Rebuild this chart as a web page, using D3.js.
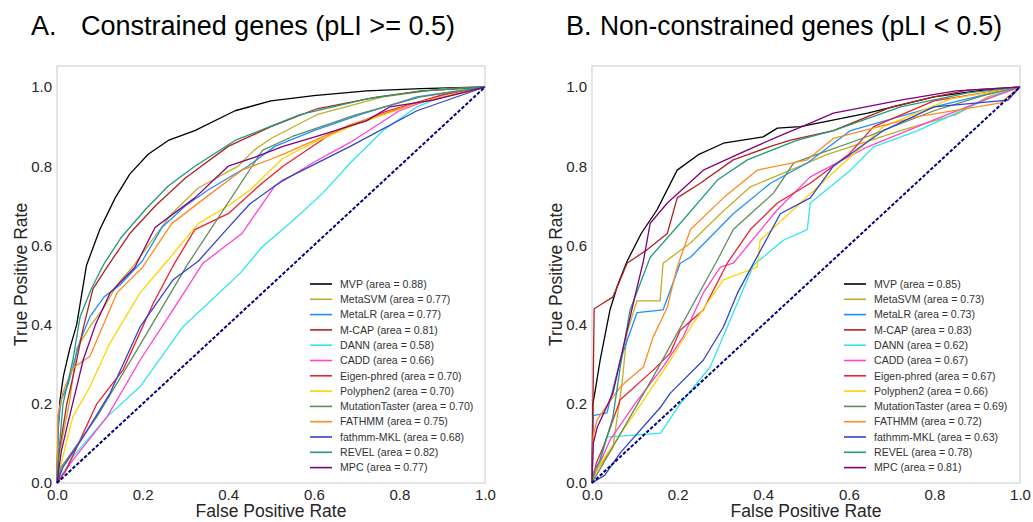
<!doctype html>
<html>
<head>
<meta charset="utf-8">
<title>ROC curves</title>
<script src="https://d3js.org/d3.v7.min.js"></script>
<style>
  body { margin: 0; background: #fff; }
  text { font-family: "Liberation Sans", Arial, sans-serif; }
</style>
</head>
<body>
<script>
// tools, in legend order
var tools = ["MVP","MetaSVM","MetaLR","M-CAP","DANN","CADD","Eigen-phred","Polyphen2","MutationTaster","FATHMM","fathmm-MKL","REVEL","MPC"];
var aucA = ["0.88","0.77","0.77","0.81","0.58","0.66","0.70","0.70","0.70","0.75","0.68","0.82","0.77"];
var aucB = ["0.85","0.73","0.73","0.83","0.62","0.67","0.67","0.66","0.69","0.72","0.63","0.78","0.81"];
var colors = ["#000000","#c0ae2a","#1e8fff","#b22222","#2ee6ee","#ff44cc","#ec2030","#ffd400","#5f8c5f","#ff8a20","#3344cc","#239a78","#800080"];
var ticks = [0, 0.2, 0.4, 0.6, 0.8, 1.0];

// panel A: constrained genes, [fpr, tpr]
var mvpA = [[0,0],[0.002,0.12],[0.007,0.21],[0.015,0.27],[0.03,0.34],[0.046,0.40],[0.069,0.55],[0.1,0.64],[0.136,0.72],[0.17,0.78],[0.213,0.83],[0.26,0.865],[0.322,0.89],[0.416,0.94],[0.5,0.965],[0.6,0.978],[0.724,0.99],[0.85,0.996],[1,1]];
var metaSvmA = [[0,0],[0.005,0.07],[0.03,0.21],[0.046,0.34],[0.08,0.40],[0.108,0.44],[0.14,0.50],[0.18,0.55],[0.22,0.61],[0.268,0.68],[0.33,0.745],[0.423,0.80],[0.46,0.84],[0.5,0.87],[0.607,0.93],[0.762,0.975],[0.9,0.995],[1,1]];
var metaLrA = [[0,0],[0.003,0.15],[0.01,0.21],[0.026,0.25],[0.054,0.36],[0.077,0.42],[0.11,0.47],[0.147,0.50],[0.199,0.56],[0.245,0.645],[0.3,0.70],[0.353,0.74],[0.446,0.80],[0.509,0.85],[0.6,0.89],[0.708,0.93],[0.841,0.975],[1,1]];
var mcapA = [[0,0],[0.005,0.08],[0.023,0.2],[0.046,0.31],[0.061,0.39],[0.084,0.49],[0.12,0.55],[0.17,0.63],[0.23,0.70],[0.3,0.77],[0.4,0.85],[0.5,0.9],[0.607,0.945],[0.75,0.975],[0.855,0.99],[1,1]];
var dannA = [[0,0],[0.037,0.066],[0.117,0.167],[0.194,0.243],[0.294,0.394],[0.428,0.53],[0.479,0.596],[0.544,0.656],[0.621,0.732],[0.685,0.808],[0.762,0.89],[0.841,0.95],[0.918,0.985],[1,1]];
var caddA = [[0,0],[0.037,0.058],[0.117,0.167],[0.194,0.31],[0.271,0.437],[0.341,0.555],[0.432,0.63],[0.509,0.75],[0.6,0.81],[0.685,0.86],[0.8,0.94],[0.9,0.98],[1,1]];
var eigenA = [[0,0],[0.02,0.03],[0.046,0.09],[0.093,0.2],[0.154,0.285],[0.225,0.454],[0.272,0.55],[0.322,0.64],[0.4,0.68],[0.479,0.757],[0.528,0.80],[0.638,0.88],[0.76,0.935],[0.9,0.98],[1,1]];
var polyphenA = [[0,0],[0.01,0.05],[0.037,0.167],[0.077,0.243],[0.124,0.354],[0.194,0.48],[0.257,0.56],[0.33,0.655],[0.4,0.70],[0.451,0.74],[0.528,0.82],[0.6,0.86],[0.685,0.9],[0.841,0.96],[1,1]];
var mutTasterA = [[0,0],[0.01,0.04],[0.093,0.167],[0.187,0.336],[0.304,0.55],[0.48,0.84],[0.55,0.875],[0.7,0.93],[0.85,0.975],[1,1]];
var fathmmA = [[0,0],[0.002,0.17],[0.014,0.23],[0.037,0.29],[0.077,0.32],[0.14,0.48],[0.2,0.545],[0.268,0.655],[0.346,0.72],[0.432,0.79],[0.493,0.815],[0.528,0.83],[0.685,0.905],[0.841,0.96],[0.958,0.987],[1,1]];
var fathmmMklA = [[0,0],[0.014,0.04],[0.061,0.116],[0.124,0.227],[0.194,0.394],[0.271,0.513],[0.33,0.56],[0.4,0.645],[0.451,0.705],[0.528,0.765],[0.685,0.85],[0.841,0.94],[1,1]];
var revelA = [[0,0],[0.003,0.06],[0.014,0.2],[0.037,0.31],[0.054,0.42],[0.08,0.49],[0.108,0.55],[0.15,0.62],[0.206,0.69],[0.26,0.75],[0.322,0.80],[0.416,0.865],[0.509,0.905],[0.568,0.93],[0.724,0.97],[0.85,0.99],[1,1]];
var mpcA = [[0,0],[0.01,0.08],[0.023,0.14],[0.061,0.31],[0.09,0.40],[0.124,0.48],[0.182,0.545],[0.229,0.645],[0.322,0.72],[0.4,0.80],[0.463,0.823],[0.528,0.85],[0.62,0.88],[0.724,0.915],[0.778,0.95],[0.879,0.967],[1,1]];

// panel B: non-constrained genes
var mvpB = [[0,0],[0.002,0.2],[0.007,0.23],[0.019,0.31],[0.042,0.437],[0.06,0.50],[0.082,0.56],[0.115,0.63],[0.152,0.69],[0.199,0.79],[0.25,0.83],[0.307,0.858],[0.4,0.874],[0.433,0.896],[0.487,0.9],[0.644,0.934],[0.799,0.975],[0.9,0.99],[1,1]];
var metaSvmB = [[0,0],[0.01,0.03],[0.049,0.09],[0.07,0.25],[0.082,0.38],[0.105,0.46],[0.159,0.46],[0.166,0.555],[0.23,0.606],[0.3,0.68],[0.37,0.748],[0.464,0.79],[0.55,0.83],[0.721,0.89],[0.85,0.93],[0.925,0.975],[1,1]];
var metaLrB = [[0,0],[0.003,0.17],[0.035,0.177],[0.066,0.31],[0.105,0.43],[0.166,0.437],[0.206,0.555],[0.23,0.57],[0.33,0.68],[0.417,0.757],[0.503,0.808],[0.604,0.89],[0.799,0.95],[0.955,0.99],[1,1]];
var mcapB = [[0,0],[0.002,0.18],[0.005,0.44],[0.02,0.45],[0.049,0.47],[0.082,0.555],[0.13,0.59],[0.176,0.63],[0.199,0.72],[0.253,0.757],[0.33,0.816],[0.417,0.85],[0.464,0.866],[0.564,0.89],[0.7,0.95],[0.799,0.975],[0.878,0.992],[1,1]];
var dannB = [[0,0],[0.01,0.03],[0.035,0.116],[0.16,0.126],[0.206,0.2],[0.276,0.293],[0.316,0.394],[0.377,0.55],[0.447,0.613],[0.503,0.64],[0.51,0.707],[0.604,0.79],[0.658,0.849],[0.761,0.89],[0.955,0.985],[1,1]];
var caddB = [[0,0],[0.01,0.03],[0.042,0.108],[0.1,0.2],[0.166,0.293],[0.213,0.369],[0.26,0.48],[0.3,0.545],[0.33,0.555],[0.433,0.69],[0.51,0.773],[0.644,0.849],[0.799,0.917],[0.916,0.967],[1,1]];
var eigenB = [[0,0],[0.01,0.05],[0.026,0.09],[0.066,0.21],[0.143,0.285],[0.183,0.328],[0.206,0.386],[0.26,0.437],[0.316,0.555],[0.37,0.64],[0.433,0.707],[0.51,0.757],[0.6,0.83],[0.658,0.9],[0.799,0.965],[1,1]];
var polyphenB = [[0,0],[0.02,0.05],[0.105,0.184],[0.183,0.31],[0.237,0.404],[0.307,0.513],[0.386,0.545],[0.393,0.613],[0.48,0.7],[0.55,0.77],[0.681,0.9],[0.838,0.97],[1,1]];
var mutTasterB = [[0,0],[0.143,0.268],[0.293,0.563],[0.33,0.64],[0.424,0.732],[0.471,0.808],[0.5,0.82],[0.644,0.875],[0.799,0.94],[0.92,0.98],[1,1]];
var fathmmB = [[0,0],[0.003,0.12],[0.012,0.16],[0.066,0.243],[0.12,0.293],[0.143,0.369],[0.176,0.444],[0.199,0.545],[0.23,0.64],[0.307,0.72],[0.386,0.79],[0.503,0.816],[0.564,0.87],[0.761,0.925],[0.955,0.96],[1,1]];
var fathmmMklB = [[0,0],[0.03,0.02],[0.066,0.076],[0.159,0.19],[0.183,0.227],[0.26,0.31],[0.307,0.394],[0.34,0.48],[0.37,0.54],[0.44,0.68],[0.51,0.72],[0.564,0.8],[0.681,0.89],[0.799,0.95],[0.972,0.967],[1,1]];
var revelB = [[0,0],[0.005,0.03],[0.019,0.058],[0.049,0.167],[0.066,0.293],[0.089,0.437],[0.136,0.57],[0.213,0.664],[0.293,0.765],[0.363,0.816],[0.48,0.866],[0.564,0.89],[0.721,0.95],[0.878,0.985],[1,1]];
var mpcB = [[0,0],[0.003,0.1],[0.012,0.14],[0.049,0.227],[0.073,0.343],[0.1,0.47],[0.12,0.56],[0.136,0.656],[0.176,0.707],[0.26,0.79],[0.347,0.833],[0.433,0.874],[0.51,0.909],[0.564,0.934],[0.721,0.967],[0.85,0.99],[1,1]];

var rocA = [mvpA, metaSvmA, metaLrA, mcapA, dannA, caddA, eigenA, polyphenA, mutTasterA, fathmmA, fathmmMklA, revelA, mpcA];
var rocB = [mvpB, metaSvmB, metaLrB, mcapB, dannB, caddB, eigenB, polyphenB, mutTasterB, fathmmB, fathmmMklB, revelB, mpcB];

var svg = d3.select("body").append("svg").attr("width", 1033).attr("height", 522);

var color = d3.scaleOrdinal().domain(tools).range(colors);

function panel(opts) {
  var x = d3.scaleLinear().domain([0, 1]).range([opts.left, opts.right]);
  var y = d3.scaleLinear().domain([0, 1.053]).range([483, 66]);
  var g = svg.append("g");

  // title
  g.append("text").attr("x", opts.titleX).attr("y", 35)
    .attr("font-size", 27).attr("fill", "#000").text(opts.letter);
  g.append("text").attr("x", opts.titleX2).attr("y", 35)
    .attr("font-size", 27).attr("fill", "#000")
    .attr("textLength", opts.titleW).attr("lengthAdjust", "spacingAndGlyphs")
    .text(opts.title);

  // frame
  g.append("rect")
    .attr("x", x(0)).attr("y", y(1.053))
    .attr("width", x(1) - x(0)).attr("height", y(0) - y(1.053))
    .attr("fill", "none").attr("stroke", "#dcdcdc").attr("stroke-width", 1.5);

  var line = d3.line().x(function(d){ return x(d[0]); }).y(function(d){ return y(d[1]); });

  g.selectAll(".roc")
    .data(opts.curves)
    .enter().append("path")
      .attr("class", "roc")
      .attr("d", line)
      .attr("fill", "none")
      .attr("stroke", function(d, i){ return color(tools[i]); })
      .attr("stroke-width", 1.3)
      .attr("stroke-linejoin", "round");

  // chance line
  g.append("path")
    .attr("d", line([[0, 0], [1, 1]]))
    .attr("stroke", "#000080").attr("stroke-width", 2)
    .attr("stroke-dasharray", "3.5,1.8");

  // axes (labels only)
  var xAxis = d3.axisBottom(x).tickValues(ticks).tickFormat(d3.format(".1f")).tickSize(0).tickPadding(6);
  var yAxis = d3.axisLeft(y).tickValues(ticks).tickFormat(d3.format(".1f")).tickSize(0).tickPadding(5);

  var gx = g.append("g").attr("transform", "translate(0,483)").call(xAxis);
  var gy = g.append("g").attr("transform", "translate(" + x(0) + ",0)").call(yAxis);
  [gx, gy].forEach(function(a){
    a.select(".domain").remove();
    a.selectAll(".tick text")
      .attr("font-family", "Liberation Sans, Arial, sans-serif")
      .attr("font-size", 15).attr("fill", "#262626");
  });

  g.append("text")
    .attr("x", (x(0) + x(1)) / 2).attr("y", 517)
    .attr("text-anchor", "middle").attr("font-size", 17.5).attr("fill", "#262626")
    .text("False Positive Rate");
  g.append("text")
    .attr("transform", "translate(" + (x(0) - 30) + "," + ((y(0) + y(1.053)) / 2) + ") rotate(-90)")
    .attr("text-anchor", "middle").attr("font-size", 17.5).attr("fill", "#262626")
    .text("True Positive Rate");

  // legend
  var lg = g.append("g").attr("transform", "translate(" + opts.legendX + ",284)");
  var row = lg.selectAll(".row").data(tools).enter().append("g")
    .attr("transform", function(d, i){ return "translate(0," + (i * 15.3) + ")"; });
  row.append("line").attr("x1", 0).attr("x2", 22)
    .attr("stroke", function(d){ return color(d); }).attr("stroke-width", 1.6);
  row.append("text").attr("x", 30).attr("dy", "0.35em")
    .attr("font-size", 10.6).attr("fill", "#333")
    .text(function(d, i){ return d + " (area = " + opts.auc[i] + ")"; });
}

panel({ left: 57, right: 485, curves: rocA, auc: aucA, legendX: 310,
  letter: "A.", title: "Constrained genes (pLI >= 0.5)", titleX: 31, titleX2: 81, titleW: 374 });
panel({ left: 592, right: 1020, curves: rocB, auc: aucB, legendX: 844,
  letter: "B.", title: "Non-constrained genes (pLI < 0.5)", titleX: 566, titleX2: 600, titleW: 402 });
</script>
</body>
</html>
